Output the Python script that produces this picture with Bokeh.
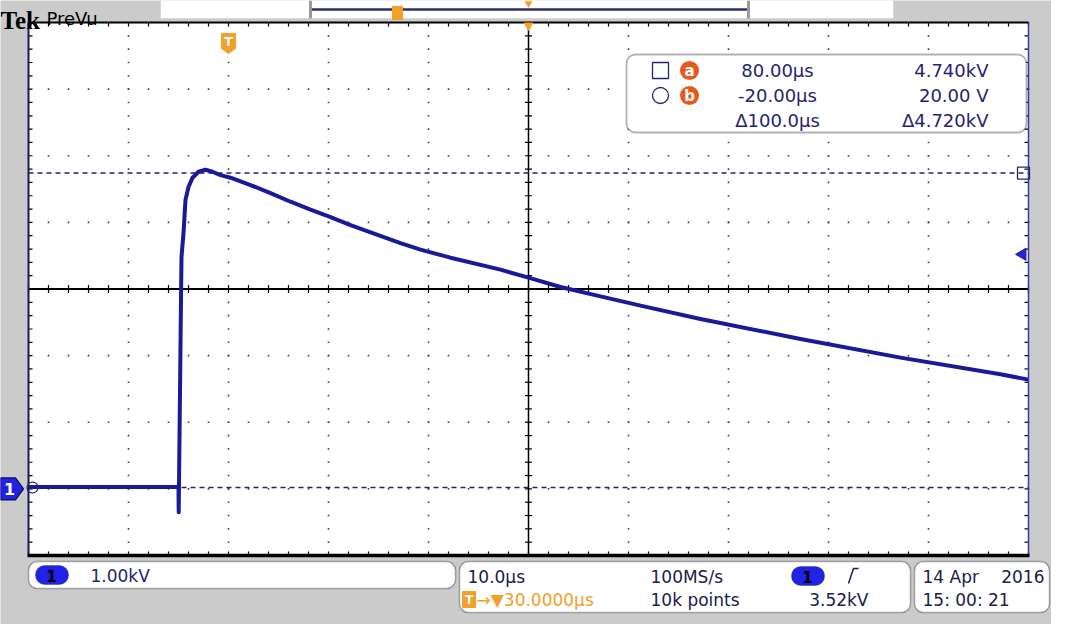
import numpy as np
from bokeh.plotting import figure
from bokeh.models import Range1d, BoxAnnotation
from bokeh.core.properties import value
from bokeh.embed import file_html
from bokeh.resources import INLINE

# ---------------- data ----------------
time_us = [-20.0, -15.0, -10.0, -5.0, -4.98, -4.75, -4.7, -4.5, -4.3, -4.0, -3.6, -3.0,
           -2.3, -1.6, -0.8, 0.2, 2.2, 4.2, 6.2, 8.2, 10.2, 12.2, 17.2, 19.2, 22.2,
           27.2, 30.0, 33.2, 37.2, 41.2, 47.2, 57.2, 67.2, 77.2, 80.0]
ch1_kv = [0.03, 0.03, 0.03, 0.03, -0.35, 2.84, 3.48, 3.84, 4.34, 4.53, 4.67, 4.76,
          4.79, 4.76, 4.71, 4.67, 4.56, 4.44, 4.31, 4.19, 4.08, 3.96, 3.69, 3.59, 3.47,
          3.29, 3.17, 3.03, 2.89, 2.75, 2.55, 2.25, 1.97, 1.72, 1.64]

x_divs = [-20, -10, 0, 10, 20, 30, 40, 50, 60, 70, 80]      # 10.0 us/div
y_divs = [-1, 0, 1, 2, 3, 4, 5, 6, 7]                         # 1.00 kV/div
center_t, center_v = 30.0, 3.0
cursor_a = (80.0, 4.740)
cursor_b = (-20.0, 0.020)
trigger_t = 0.0
trigger_level = 3.52
ground = 0.0

readout_rows = [["80.00\u00b5s", "4.740kV"], ["-20.00\u00b5s", "20.00 V"], ["\u0394100.0\u00b5s", "\u03944.720kV"]]
ch_scale = "1.00kV"
timebase = "10.0\u00b5s"
sample_rate = "100MS/s"
delay = "\u2192\u25bc30.0000\u00b5s"
record = "10k points"
trig_text = "3.52kV"
date_text = "14 Apr"
year_text = "2016"
time_text = "15: 00: 21"

# ---------------- layout helpers ----------------
W, H = 1051, 624
OFF = 0
PX_US = 10.0
PX_KV = 533.0 / 8.0
GX0, GY0 = 28, 22            # screen position of graticule top-left


def X(px):
    return -20.0 + (px - GX0) / PX_US


def Y(py):
    return 7.0 - (py - GY0) / PX_KV


GRAY = "#cbcbcb"
NAVY = "#25256e"
TRACE = "#1a1a98"
ORANGE = "#f2a027"
BLUE = "#2222e6"
F = "DejaVu Sans"

p = figure(width=W, height=H, x_range=Range1d(X(OFF), X(OFF + W)), y_range=Range1d(Y(OFF + H), Y(OFF)),
           output_backend="svg", toolbar_location=None, min_border=0,
           x_axis_location=None, y_axis_location=None,
           background_fill_color=GRAY, border_fill_color=GRAY, outline_line_color=None)
p.xgrid.visible = False
p.ygrid.visible = False


def txt(px, py, s, size=17, color=NAVY, align="left", font=F, style="normal", baseline="middle"):
    p.text(x=[X(px)], y=[Y(py)], text=[s], text_font=value(font), text_font_size=f"{size}px",
           text_color=color, text_align=align, text_baseline=baseline, text_font_style=style)


def box(l, r, t, b, fill="white", line="black", lw=1.5, radius=0, level="underlay"):
    p.add_layout(BoxAnnotation(left=X(l), right=X(r), top=Y(t), bottom=Y(b), fill_color=fill, fill_alpha=1.0,
                               line_color=line, line_width=lw, border_radius=radius, level=level))


# ---------------- graticule ----------------
tmin, tmax = x_divs[0], x_divs[-1]
vmin, vmax = y_divs[0], y_divs[-1]
p.add_layout(BoxAnnotation(left=tmin, right=tmax, bottom=vmin, top=vmax, fill_color="white", fill_alpha=1,
                           line_color=None, level="underlay"))

minor_t = np.arange(tmin, tmax + 0.001, 2.0)
minor_v = np.arange(vmin, vmax + 0.001, 0.2)
dx, dy = [], []
for v in y_divs[1:-1]:
    if v == center_v:
        continue
    dx += list(minor_t); dy += [v] * len(minor_t)
for t in x_divs[1:-1]:
    if t == center_t:
        continue
    dx += [t] * len(minor_v); dy += list(minor_v)
p.scatter(dx, dy, marker="square", size=1.6, color="#404040", line_color=None)

# center cross
p.line([tmin, tmax], [center_v, center_v], color="black", line_width=2)
p.line([center_t, center_t], [vmin, vmax], color="black", line_width=1.5)
tk = 4 / PX_KV
p.segment(x0=minor_t, y0=center_v - tk, x1=minor_t, y1=center_v + tk, color="black", line_width=1.2)
p.segment(x0=center_t - 0.35, y0=minor_v, x1=center_t + 0.35, y1=minor_v, color="black", line_width=1.2)
# edge ticks
p.segment(x0=minor_t, y0=vmax, x1=minor_t, y1=vmax - tk, color="black", line_width=1.2)
p.segment(x0=minor_t, y0=vmin, x1=minor_t, y1=vmin + tk, color="black", line_width=1.2)
p.segment(x0=tmin, y0=minor_v, x1=tmin + 0.4, y1=minor_v, color="black", line_width=1.2)
p.segment(x0=tmax, y0=minor_v, x1=tmax - 0.4, y1=minor_v, color="black", line_width=1.2)

# cursors (dashed)
p.line([tmin, tmax], [cursor_a[1], cursor_a[1]], color=NAVY, line_width=1.6, line_dash="5 4")
p.line([tmin + 0.9, tmax], [cursor_b[1], cursor_b[1]], color=NAVY, line_width=1.4, line_dash="5 4")

# waveform
p.line(time_us, ch1_kv, color=TRACE, line_width=4, line_join="round")

# frame edges
p.line([tmin, tmin], [vmin, vmax], color="#1a1a60", line_width=2)
p.line([tmax, tmax], [vmin, vmax], color="#3a3ab0", line_width=1.5)
p.line([tmin, tmax], [vmax, vmax], color="black", line_width=2)
p.line([tmin - 0.1, tmax + 0.1], [vmin, vmin], color="black", line_width=3.5)

# cursor markers
p.scatter([cursor_a[0] - 0.5], [cursor_a[1]], marker="square", size=12, fill_color="white", fill_alpha=0,
          line_color=NAVY, line_width=1.3)
p.scatter([cursor_b[0] + 0.4], [cursor_b[1]], marker="circle", size=11, fill_alpha=0, line_color=NAVY, line_width=1.2)
# trigger level marker (right)
p.scatter([tmax - 0.6], [trigger_level], marker="triangle", angle=np.pi / 2, size=12, color=BLUE, line_color=NAVY)
# horizontal position marker (top)
p.scatter([center_t], [Y(25)], marker="inverted_triangle", size=10, color=ORANGE, line_color=None)
# trigger flag T
p.patch([trigger_t - 0.7, trigger_t + 0.7, trigger_t + 0.7, trigger_t, trigger_t - 0.7],
        [Y(33), Y(33), Y(48), Y(53), Y(48)], color=ORANGE, line_color=ORANGE)
p.text(x=[trigger_t], y=[Y(41)], text=["T"], text_font=value(F), text_font_size="13px", text_font_style="bold",
       text_color="white", text_align="center", text_baseline="middle")

# channel 1 ground badge (left)
p.patch([X(0), X(15), X(23), X(15), X(0)], [ground + 11 / PX_KV, ground + 11 / PX_KV, ground, ground - 11 / PX_KV,
                                           ground - 11 / PX_KV], color=BLUE, line_color="#101050", line_width=1.2)
p.text(x=[X(9)], y=[ground], text=["1"], text_font=value(F), text_font_size="16px", text_font_style="bold",
       text_color="white", text_align="center", text_baseline="middle")

# ---------------- header ----------------
txt(0, 20, "Tek", size=25, color="black", font="Liberation Serif", style="bold", baseline="alphabetic")
txt(46, 18, "PreVu", size=18, color="black", baseline="alphabetic")
box(160, 893, -2, 18, fill="white", line="#b8b8b8", lw=1, level="underlay")
p.line([X(310), X(748)], [Y(9), Y(9)], color="#2c2c70", line_width=2.5)
p.line([X(310), X(310)], [Y(0), Y(18)], color="#9a9a9a", line_width=3)
p.line([X(748), X(748)], [Y(0), Y(18)], color="#9a9a9a", line_width=3)
p.quad(left=[X(392)], right=[X(402)], top=[Y(6)], bottom=[Y(19)], color=ORANGE)
p.scatter([X(528)], [Y(3)], marker="inverted_triangle", size=8, color=ORANGE, line_color=None)

# ---------------- cursor readout ----------------
box(626, 1026, 54, 132, radius=9, lw=1.8, level="annotation")
row_y = [70, 95, 120]
p.scatter([X(660)], [Y(row_y[0])], marker="square", size=16, fill_alpha=0, line_color=NAVY, line_width=1.3,
          level="overlay")
p.scatter([X(660)], [Y(row_y[1])], marker="circle", size=16, fill_alpha=0, line_color=NAVY, line_width=1.3,
          level="overlay")
for i, lab in enumerate(["a", "b"]):
    p.scatter([X(689)], [Y(row_y[i])], marker="circle", size=19, color="#e8581c", line_color=None, level="overlay")
    p.text(x=[X(689)], y=[Y(row_y[i])], text=[lab], text_font=value(F), text_font_size="15px",
           text_font_style="bold", text_color="white", text_align="center", text_baseline="middle", level="overlay")
for i, (tv, vv) in enumerate(readout_rows):
    p.text(x=[X(777)], y=[Y(row_y[i])], text=[tv], text_font=value(F), text_font_size="18px", text_color=NAVY,
           text_align="center", text_baseline="middle", level="overlay")
    p.text(x=[X(988)], y=[Y(row_y[i])], text=[vv], text_font=value(F), text_font_size="18px", text_color=NAVY,
           text_align="right", text_baseline="middle", level="overlay")

# ---------------- bottom panels ----------------
box(28, 455, 561, 588, radius=9, lw=1.5)
box(459, 910, 561, 612, radius=9, lw=1.5)
box(914, 1049, 561, 612, radius=9, lw=1.5)
TXT = "#202048"
# channel pill
box(35, 68, 565, 584, fill=BLUE, line="#101050", lw=1, radius=9, level="annotation")
box(791, 824, 566, 585, fill=BLUE, line="#101050", lw=1, radius=9, level="annotation")
for cx, cy in [(51, 575), (807, 576)]:
    p.text(x=[X(cx)], y=[Y(cy)], text=["1"], text_font=value(F), text_font_size="15px", text_font_style="bold",
           text_color="black", text_align="center", text_baseline="middle", level="overlay")
txt(90, 575, ch_scale, color=NAVY)
txt(467, 576, timebase, color=TXT)
txt(650, 576, sample_rate, color=TXT)
p.line([X(848), X(853), X(858)], [Y(583), Y(568), Y(568)], color=TXT, line_width=1.5)
p.quad(left=[X(462)], right=[X(475)], top=[Y(591)], bottom=[Y(607)], color=ORANGE)
txt(468.5, 599, "T", size=12, color="white", align="center", style="bold")
txt(476, 599, delay, color=ORANGE)
txt(650, 599, record, color=TXT)
txt(868, 599, trig_text, color=TXT, align="right")
txt(922, 576, date_text, color=TXT)
txt(1044, 576, year_text, color=TXT, align="right")
txt(922, 599, time_text, color=TXT)

open("out.html", "w").write(file_html(p, INLINE))
